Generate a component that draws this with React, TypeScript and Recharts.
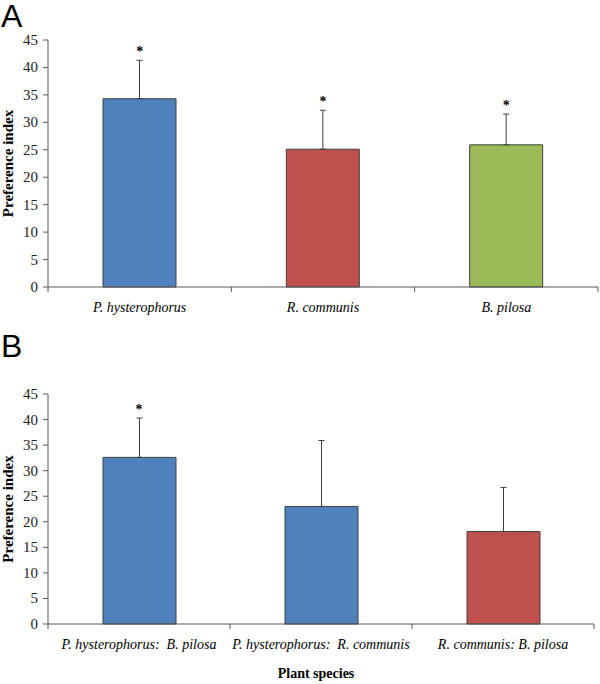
import { ComposedChart, Bar, Cell, ErrorBar, Line, LabelList, XAxis, YAxis, Label } from 'recharts';

// panel A: single species
const speciesA = ['P. hysterophorus', 'R. communis', 'B. pilosa'];
const meanA = [34.3, 25.1, 25.9];
const errA = [7.0, 7.1, 5.6];
const sigA = [true, true, true];
const colorsA = ['#4F81BD', '#C0504D', '#9BBB59'];

// panel B: species pairs
const pairsB = ['P. hysterophorus:  B. pilosa', 'P. hysterophorus:  R. communis', 'R. communis: B. pilosa'];
const meanB = [32.6, 23.0, 18.1];
const errB = [7.7, 12.9, 8.6];
const sigB = [true, false, false];
const colorsB = ['#4F81BD', '#4F81BD', '#C0504D'];

const yTicks = [0, 5, 10, 15, 20, 25, 30, 35, 40, 45];

const AXIS = '#595959';
const SERIF = 'Liberation Serif, Times New Roman, serif';

function buildRows(names: string[], means: number[], errs: number[], sig: boolean[]) {
    return names.map((name, i) => ({
        name,
        mean: means[i],
        err: [0, errs[i]],
        star: sig[i] ? means[i] + errs[i] : null,
    }));
}

// category label plus the band-edge tick marks (Excel style)
const CategoryTick = (props: any) => {
    const half = props.payload?.offset ?? 0;
    const last = props.index === props.visibleTicksCount - 1;
    const axisY = props.y;
    return (
        <g>
            {half > 0 && <line x1={props.x - half} x2={props.x - half} y1={axisY} y2={axisY + 5} stroke={AXIS} />}
            {half > 0 && last && <line x1={props.x + half} x2={props.x + half} y1={axisY} y2={axisY + 5} stroke={AXIS} />}
            <text
                x={props.x}
                y={axisY + 25}
                textAnchor="middle"
                fontFamily={SERIF}
                fontStyle="italic"
                fontSize={14}
                fill="#000"
                style={{ whiteSpace: 'pre' }}
            >
                {props.payload.value}
            </text>
        </g>
    );
};

const ValueTick = (props: any) => (
    <text x={props.x} y={props.y + 5} textAnchor="end" fontFamily={SERIF} fontSize={15} fill="#222">
        {props.payload.value}
    </text>
);

const StarLabel = (props: any) => {
    if (props.value == null) return null;
    return (
        <text x={props.x} y={props.y - 4} textAnchor="middle" fontFamily={SERIF} fontWeight="bold" fontSize={14} fill="#000">
            *
        </text>
    );
};

const YTitle = (props: any) => {
    const vb = props.viewBox;
    const cy = vb.y + vb.height / 2;
    return (
        <text
            x={13}
            y={cy}
            transform={`rotate(-90, 13, ${cy})`}
            textAnchor="middle"
            fontFamily={SERIF}
            fontWeight="bold"
            fontSize={15}
            fill="#000"
        >
            Preference index
        </text>
    );
};

interface PanelProps {
    rows: ReturnType<typeof buildRows>;
    colors: string[];
    top: number;
    height: number;
    marginTop: number;
    marginRight: number;
    axisHeight: number;
    letter: string;
    xTitle?: string;
}

function Panel({ rows, colors, top, height, marginTop, marginRight, axisHeight, letter, xTitle }: PanelProps) {
    return (
        <div style={{ position: 'absolute', left: 0, top, width: 600, height }}>
            <div
                style={{
                    position: 'absolute',
                    left: 1,
                    top: 0,
                    fontFamily: 'Liberation Sans, Arial, sans-serif',
                    fontSize: 32,
                    lineHeight: 1,
                    color: '#000',
                }}
            >
                {letter}
            </div>
            <ComposedChart
                width={600}
                height={height}
                data={rows}
                margin={{ top: marginTop, right: marginRight, bottom: 0, left: 8 }}
            >
                <XAxis
                    xAxisId="cat"
                    dataKey="name"
                    type="category"
                    height={axisHeight}
                    axisLine={{ stroke: AXIS }}
                    tickLine={false}
                    tickSize={0}
                    tickMargin={0}
                    interval={0}
                    tick={<CategoryTick />}
                >
                    {xTitle && (
                        <Label
                            content={(p: any) => (
                                <text
                                    x={p.viewBox.x + p.viewBox.width / 2 - 5}
                                    y={p.viewBox.y + 54}
                                    textAnchor="middle"
                                    fontFamily={SERIF}
                                    fontWeight="bold"
                                    fontSize={14}
                                    fill="#000"
                                >
                                    {xTitle}
                                </text>
                            )}
                        />
                    )}
                </XAxis>
                <YAxis
                    type="number"
                    domain={[0, 45]}
                    ticks={yTicks}
                    width={40}
                    tickSize={5}
                    tickMargin={5}
                    axisLine={{ stroke: AXIS }}
                    tickLine={{ stroke: AXIS }}
                    tick={<ValueTick />}
                    label={<Label content={<YTitle />} />}
                />
                <Bar xAxisId="cat" dataKey="mean" barSize={73} stroke="#404040" strokeWidth={1} isAnimationActive={false}>
                    {rows.map((r, i) => (
                        <Cell key={r.name} fill={colors[i]} />
                    ))}
                    <ErrorBar dataKey="err" direction="y" width={3} stroke="#404040" strokeWidth={1} isAnimationActive={false} />
                </Bar>
                <Line
                    xAxisId="cat"
                    dataKey="star"
                    stroke="none"
                    dot={false}
                    activeDot={false}
                    legendType="none"
                    isAnimationActive={false}
                >
                    <LabelList dataKey="star" content={<StarLabel />} />
                </Line>
            </ComposedChart>
        </div>
    );
}

export default function App() {
    const rowsA = buildRows(speciesA, meanA, errA, sigA);
    const rowsB = buildRows(pairsB, meanB, errB, sigB);
    return (
        <div style={{ position: 'absolute', left: 0, top: 0, width: 600, height: 684, background: '#fff', overflow: 'hidden' }}>
            <Panel rows={rowsA} colors={colorsA} top={0} height={330} marginTop={40} marginRight={2} axisHeight={43} letter="A" />
            <Panel
                rows={rowsB}
                colors={colorsB}
                top={330}
                height={354}
                marginTop={64}
                marginRight={6}
                axisHeight={60}
                letter="B"
                xTitle="Plant species"
            />
        </div>
    );
}
